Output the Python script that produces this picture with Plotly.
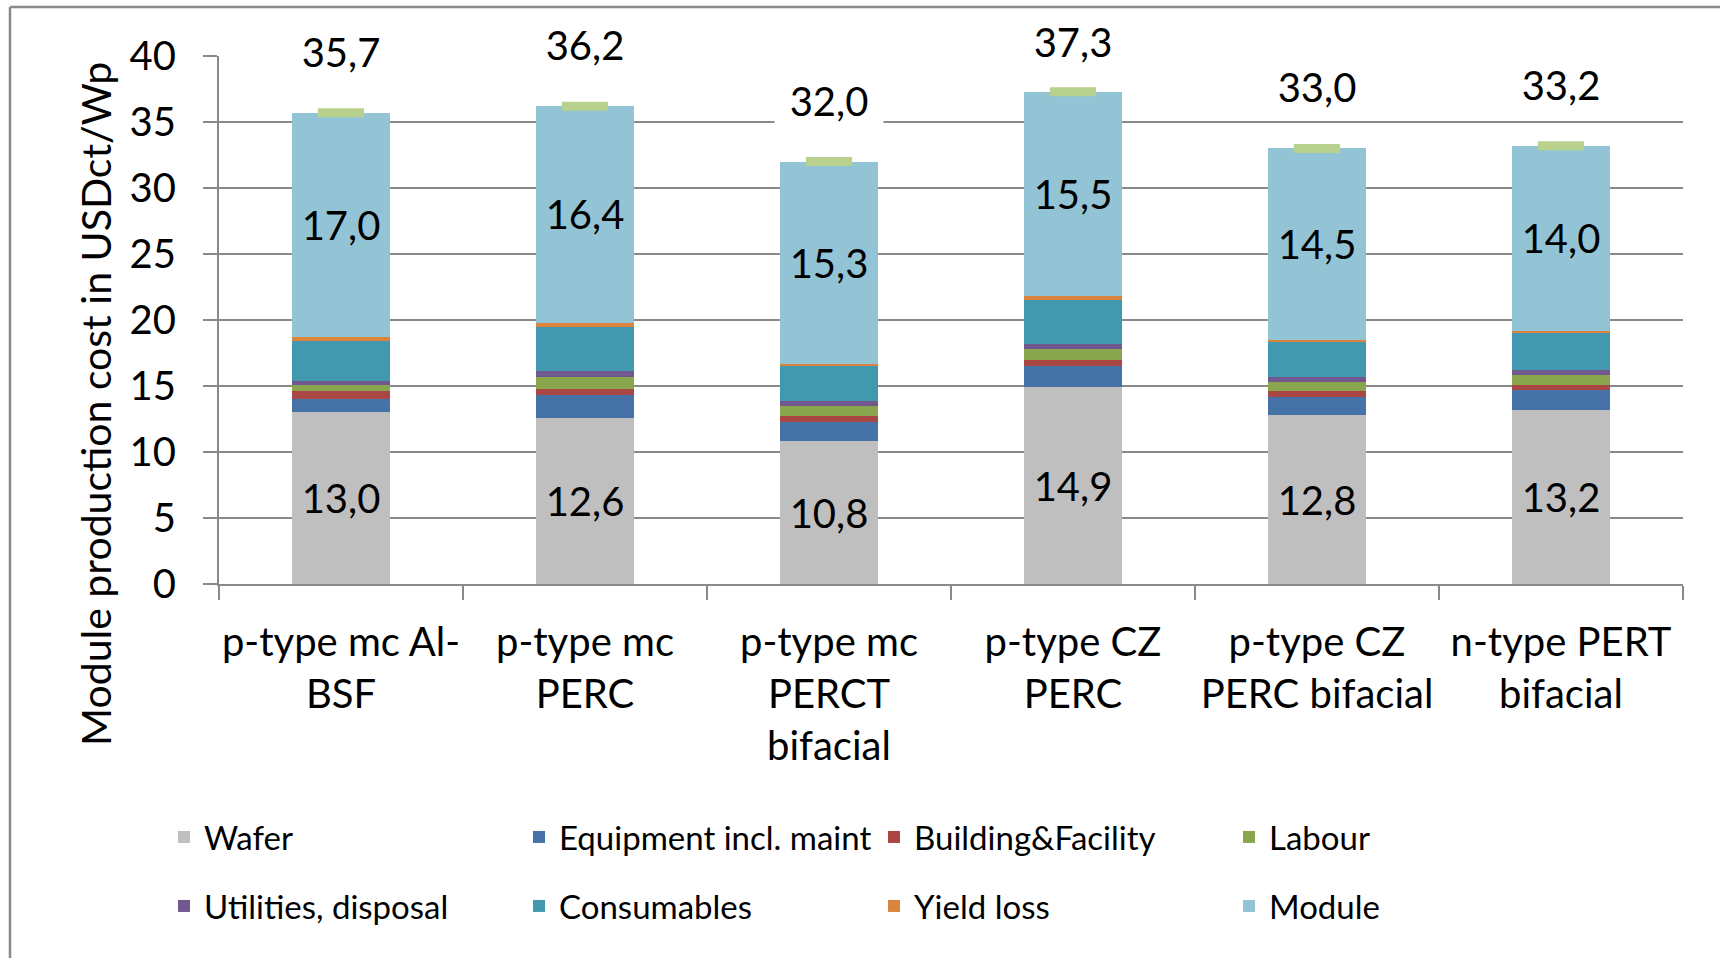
import plotly.graph_objects as go

categories = ["p-type mc Al-<br>BSF", "p-type mc<br>PERC", "p-type mc<br>PERCT<br>bifacial",
              "p-type CZ<br>PERC", "p-type CZ<br>PERC bifacial", "n-type PERT<br>bifacial"]
wafer = [13.0, 12.6, 10.8, 14.9, 12.8, 13.2]
equipment = [1.0, 1.7, 1.5, 1.6, 1.4, 1.5]
building = [0.6, 0.5, 0.4, 0.5, 0.4, 0.4]
labour = [0.5, 0.9, 0.8, 0.8, 0.7, 0.7]
utilities = [0.3, 0.4, 0.4, 0.4, 0.4, 0.4]
consumables = [3.0, 3.4, 2.6, 3.3, 2.6, 2.8]
yield_loss = [0.3, 0.3, 0.2, 0.3, 0.2, 0.2]
module = [17.0, 16.4, 15.3, 15.5, 14.5, 14.0]
totals = [35.7, 36.2, 32.0, 37.3, 33.0, 33.2]

series_names = ["Wafer", "Equipment incl. maint", "Building&Facility", "Labour",
                "Utilities, disposal", "Consumables", "Yield loss", "Module"]
series_values = [wafer, equipment, building, labour, utilities, consumables, yield_loss, module]
series_colors = ["#bfbfbf", "#4572a7", "#aa4643", "#89a54e",
                 "#71588f", "#4198af", "#db843d", "#93c4d6"]
labelled = {"Wafer", "Module"}

FONT = "Lato"
FS = 40
GRID = "#8a8a8a"

W, H = 1720, 958
L, R, T, B = 219, 37, 56, 374
pw, ph = W - L - R, H - T - B
YMAX = 40

def px(x):
    return (x - L) / pw

def py(y):
    return (H - B - y) / ph

fig = go.Figure()
for i, (name, vals, col) in enumerate(zip(series_names, series_values, series_colors)):
    kw = {}
    if name in labelled:
        kw = dict(texttemplate="%{y:.1f}", textposition="inside", insidetextanchor="middle",
                  textangle=0, insidetextfont=dict(family=FONT, size=FS, color="black"))
    fig.add_trace(go.Bar(
        x=categories, y=vals, name=name, marker=dict(color=col, line=dict(width=0)),
        legend="legend" if i < 4 else "legend2", **kw))

fig.add_trace(go.Scatter(
    x=categories, y=totals, mode="markers", showlegend=False, hoverinfo="skip",
    marker=dict(symbol="line-ew", size=33, color="#b9d18f",
                line=dict(width=9, color="#b9d18f"))))

annotations = []
for c, t in zip(categories, totals):
    bar_top_px = (T + ph) - t / YMAX * ph
    shift = min(61, bar_top_px - 42)
    annotations.append(dict(x=c, y=t, xref="x", yref="y", text=f"{t:.1f}".replace(".", ","),
                            showarrow=False, yshift=shift, bgcolor="white", width=106,
                            font=dict(family=FONT, size=FS, color="black")))
annotations.append(dict(x=px(95), y=py(404), xref="paper", yref="paper",
                        xanchor="center", yanchor="middle",
                        text="Module production cost in USDct/Wp", textangle=-90,
                        showarrow=False, font=dict(family=FONT, size=41, color="black")))

shapes = [
    dict(type="line", xref="paper", yref="paper", x0=px(10), x1=px(W + 5), y0=py(7), y1=py(7),
         line=dict(color=GRID, width=2.5)),
    dict(type="line", xref="paper", yref="paper", x0=px(10), x1=px(10), y0=py(7), y1=py(H + 5),
         line=dict(color=GRID, width=2.5)),
]

leg_common = dict(orientation="h", xanchor="left", yanchor="middle", traceorder="normal",
                  entrywidth=310, entrywidthmode="pixels",
                  font=dict(family=FONT, size=33, color="black"), bgcolor="rgba(0,0,0,0)")

fig.update_layout(
    width=W, height=H, barmode="stack", bargap=0.6,
    margin=dict(l=L, r=R, t=T, b=B),
    paper_bgcolor="white", plot_bgcolor="white",
    separators=",.",
    font=dict(family=FONT, size=FS, color="black"),
    annotations=annotations, shapes=shapes,
    legend=dict(x=px(164), y=py(837), **leg_common),
    legend2=dict(x=px(164), y=py(906), **leg_common),
)
fig.update_yaxes(range=[0, YMAX], dtick=5, showgrid=True, gridcolor=GRID, gridwidth=2,
                 showline=True, linecolor=GRID, linewidth=2, ticks="outside", ticklen=14,
                 tickcolor=GRID, tickwidth=2, zeroline=False, ticklabelstandoff=19,
                 tickfont=dict(family=FONT, size=FS))
fig.update_xaxes(showline=True, linecolor=GRID, linewidth=2, ticks="outside", ticklen=14,
                 tickcolor=GRID, tickwidth=2, tickson="boundaries", tickangle=0,
                 tickfont=dict(family=FONT, size=FS), ticklabelstandoff=22)

fig.write_html("out.html")
